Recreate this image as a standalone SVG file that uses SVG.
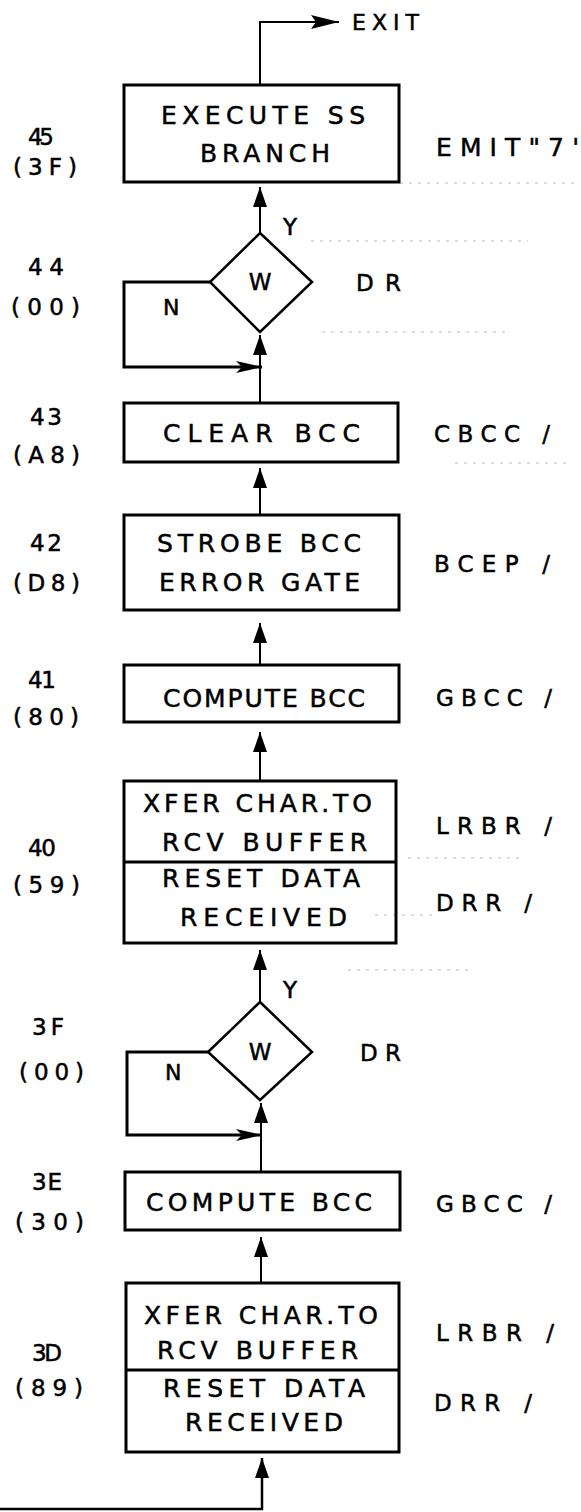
<svg xmlns="http://www.w3.org/2000/svg" width="581" height="1512" viewBox="0 0 581 1512">
<style>
.box{fill:none;stroke:#000;stroke-width:3}
.div{stroke:#000;stroke-width:3}
.dia{fill:none;stroke:#000;stroke-width:2.5;stroke-linejoin:miter}
.con{fill:none;stroke:#000;stroke-width:2}
.loop{fill:none;stroke:#000;stroke-width:3}
.guide{fill:none;stroke:#bbb;stroke-width:1;stroke-dasharray:3 6}
text{font-family:"DejaVu Sans","Liberation Sans",sans-serif;fill:#000;stroke:#000;stroke-width:0.5}
.t{font-size:25px}
.s{font-size:23px}
.e{font-size:22px}
</style>
<defs>
<marker id="ah" viewBox="0 0 20 14" refX="20" refY="7" markerWidth="20" markerHeight="14" markerUnits="userSpaceOnUse" orient="auto">
<path d="M0,0 L20,7 L0,14 z" fill="#000"/>
</marker>
<marker id="ahr" viewBox="0 0 26 12" refX="26" refY="6" markerWidth="26" markerHeight="12" markerUnits="userSpaceOnUse" orient="auto">
<path d="M0,0 L26,6 L0,12 L6,6 z" fill="#000"/>
</marker>
<marker id="ahx" viewBox="0 0 28 14" refX="28" refY="7" markerWidth="28" markerHeight="14" markerUnits="userSpaceOnUse" orient="auto">
<path d="M0,0 L28,7 L0,14 L5,7 z" fill="#000"/>
</marker>
</defs>

<g id="guides">
<path class="guide" d="M400,183 H579"/>
<path class="guide" d="M311,241 H528"/>
<path class="guide" d="M322,332 H505"/>
<path class="guide" d="M455,463 H570"/>
<path class="guide" d="M408,858 H524"/>
<path class="guide" d="M375,915 H435"/>
<path class="guide" d="M348,970 H472"/>
</g>

<g id="connectors">
<path class="con" d="M260,85 V22 H339" marker-end="url(#ahx)"/>
<path class="con" d="M260,233 V187" marker-end="url(#ah)"/>
<path class="loop" d="M210,282 H124 V367 H262" marker-end="url(#ahr)"/>
<path class="con" d="M260,403 V335" marker-end="url(#ah)"/>
<path class="con" d="M260,515 V468" marker-end="url(#ah)"/>
<path class="con" d="M260,665 V623" marker-end="url(#ah)"/>
<path class="con" d="M260,781 V732" marker-end="url(#ah)"/>
<path class="con" d="M260,1002 V950" marker-end="url(#ah)"/>
<path class="loop" d="M208,1052 H127 V1135 H262" marker-end="url(#ahr)"/>
<path class="con" d="M261,1172 V1103" marker-end="url(#ah)"/>
<path class="con" d="M261,1283 V1237" marker-end="url(#ah)"/>
<path class="loop" d="M0,1509 H262 V1458" marker-end="url(#ah)" style="stroke-width:2.5"/>
</g>

<g id="exit">
<text class="e" x="352" y="30" textLength="67" lengthAdjust="spacing">EXIT</text>
</g>

<g id="n45">
<rect class="box" x="124" y="85" width="275" height="97"/>
<text class="t" x="161" y="124" textLength="204" lengthAdjust="spacing">EXECUTE SS</text>
<text class="t" x="200" y="162" textLength="130" lengthAdjust="spacing">BRANCH</text>
<text class="s" x="28" y="145" textLength="26" lengthAdjust="spacing">45</text>
<text class="s" x="13" y="175" textLength="64" lengthAdjust="spacing">(3F)</text>
<text class="t" x="436" y="156" textLength="143" lengthAdjust="spacing">EMIT"7'</text>
</g>

<g id="n44">
<path class="dia" d="M260,233 L312,282 L260,332 L210,282 Z"/>
<text class="s" x="260" y="290" text-anchor="middle">W</text>
<text class="s" x="283" y="235">Y</text>
<text class="e" x="163" y="315">N</text>
<text class="s" x="356" y="291" textLength="45" lengthAdjust="spacing">DR</text>
<text class="s" x="28" y="275" textLength="36" lengthAdjust="spacing">44</text>
<text class="s" x="11" y="315" textLength="69" lengthAdjust="spacing">(00)</text>
</g>

<g id="n43">
<rect class="box" x="124" y="403" width="274" height="59"/>
<text class="t" x="163" y="442" textLength="197" lengthAdjust="spacing">CLEAR BCC</text>
<text class="s" x="30" y="425" textLength="32" lengthAdjust="spacing">43</text>
<text class="s" x="13" y="463" textLength="67" lengthAdjust="spacing">(A8)</text>
<text class="s" x="434" y="442" textLength="116" lengthAdjust="spacing">CBCC /</text>
</g>

<g id="n42">
<rect class="box" x="124" y="515" width="275" height="95"/>
<text class="t" x="157" y="552" textLength="204" lengthAdjust="spacing">STROBE BCC</text>
<text class="t" x="159" y="591" textLength="201" lengthAdjust="spacing">ERROR GATE</text>
<text class="s" x="30" y="551" textLength="32" lengthAdjust="spacing">42</text>
<text class="s" x="13" y="591" textLength="67" lengthAdjust="spacing">(D8)</text>
<text class="s" x="434" y="572" textLength="116" lengthAdjust="spacing">BCEP /</text>
</g>

<g id="n41">
<rect class="box" x="124" y="665" width="275" height="57"/>
<text class="t" x="163" y="707" textLength="202" lengthAdjust="spacing">COMPUTE BCC</text>
<text class="s" x="28" y="688" textLength="28" lengthAdjust="spacing">41</text>
<text class="s" x="13" y="725" textLength="66" lengthAdjust="spacing">(80)</text>
<text class="s" x="436" y="706" textLength="116" lengthAdjust="spacing">GBCC /</text>
</g>

<g id="n40">
<rect class="box" x="124" y="781" width="272" height="162"/>
<line class="div" x1="124" y1="862" x2="396" y2="862"/>
<text class="t" x="143" y="812" textLength="229" lengthAdjust="spacing">XFER CHAR.TO</text>
<text class="t" x="162" y="851" textLength="205" lengthAdjust="spacing">RCV BUFFER</text>
<text class="t" x="162" y="887" textLength="198" lengthAdjust="spacing">RESET DATA</text>
<text class="t" x="180" y="926" textLength="167" lengthAdjust="spacing">RECEIVED</text>
<text class="s" x="28" y="856" textLength="28" lengthAdjust="spacing">40</text>
<text class="s" x="13" y="893" textLength="67" lengthAdjust="spacing">(59)</text>
<text class="s" x="436" y="834" textLength="116" lengthAdjust="spacing">LRBR /</text>
<text class="s" x="436" y="911" textLength="96" lengthAdjust="spacing">DRR /</text>
</g>

<g id="n3F">
<path class="dia" d="M260,1002 L312,1052 L260,1100 L208,1052 Z"/>
<text class="s" x="260" y="1060" text-anchor="middle">W</text>
<text class="s" x="283" y="998">Y</text>
<text class="e" x="165" y="1080">N</text>
<text class="s" x="360" y="1061" textLength="41" lengthAdjust="spacing">DR</text>
<text class="s" x="32" y="1035" textLength="32" lengthAdjust="spacing">3F</text>
<text class="s" x="19" y="1080" textLength="65" lengthAdjust="spacing">(00)</text>
</g>

<g id="n3E">
<rect class="box" x="125" y="1172" width="275" height="58"/>
<text class="t" x="146" y="1211" textLength="226" lengthAdjust="spacing">COMPUTE BCC</text>
<text class="s" x="32" y="1190" textLength="30" lengthAdjust="spacing">3E</text>
<text class="s" x="15" y="1230" textLength="69" lengthAdjust="spacing">(30)</text>
<text class="s" x="436" y="1212" textLength="116" lengthAdjust="spacing">GBCC /</text>
</g>

<g id="n3D">
<rect class="box" x="126" y="1283" width="273" height="169"/>
<line class="div" x1="126" y1="1370" x2="399" y2="1370"/>
<text class="t" x="144" y="1324" textLength="234" lengthAdjust="spacing">XFER CHAR.TO</text>
<text class="t" x="157" y="1359" textLength="201" lengthAdjust="spacing">RCV BUFFER</text>
<text class="t" x="163" y="1397" textLength="202" lengthAdjust="spacing">RESET DATA</text>
<text class="t" x="185" y="1431" textLength="158" lengthAdjust="spacing">RECEIVED</text>
<text class="s" x="32" y="1361" textLength="30" lengthAdjust="spacing">3D</text>
<text class="s" x="15" y="1396" textLength="68" lengthAdjust="spacing">(89)</text>
<text class="s" x="436" y="1341" textLength="118" lengthAdjust="spacing">LRBR /</text>
<text class="s" x="434" y="1411" textLength="98" lengthAdjust="spacing">DRR /</text>
</g>
</svg>
